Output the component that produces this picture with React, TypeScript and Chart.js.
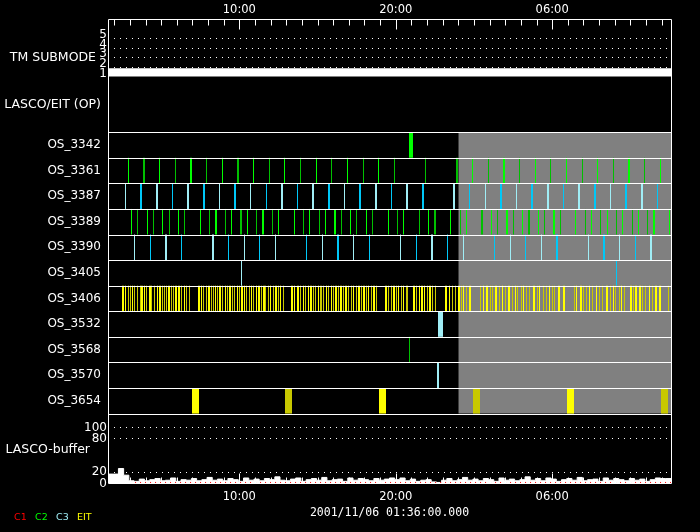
import React, { useEffect, useRef } from "react";
import { Chart, registerables } from "chart.js";

Chart.register(...registerables);

// ---------------- time axis (hours since 2001/11/06 00:00) ----------------
const START_HOUR = 1.6; // 01:36
const END_HOUR = 37.6;
const NO_DATA_FROM = 24.0; // grey area: no data after 2001/11/07 00:00
const MAJOR_TICK_EVERY = 10;
const DATE_LABEL = "2001/11/06 01:36:00.000";

// ---------------- panels ----------------
const TM_LABEL = "TM SUBMODE";
const OP_LABEL = "LASCO/EIT (OP)";
const BUFFER_LABEL = "LASCO-buffer";
const TM_TICKS = [5, 4, 3, 2, 1];
const TM_GRID = [5, 4, 3, 2];
const TM_SUBMODE_T = [1.6, 37.6];
const TM_SUBMODE_V = [1, 1];
const BUFFER_TICKS = [100, 80, 20, 0];
const BUFFER_GRID = [100, 80, 20];
const LEGEND_NAMES = ["C1", "C2", "C3", "EIT"];

// LASCO buffer fill level, one value every 20 minutes from 01:36
const BUFFER_STEP_H = 1 / 3;
const BUFFER_V = [
  16, 16, 16, 26, 14, 4,
  3, 7, 4, 6, 8, 4, 5, 9, 3, 6, 5, 8,
  4, 6, 10, 5, 7, 4, 8, 6, 3, 9, 5, 7,
  4, 8, 6, 11, 5, 4, 7, 9, 3, 6, 8, 5,
  10, 4, 6, 7, 3, 9, 5, 8, 6, 4, 8, 5,
  7, 9, 6, 9, 4, 7, 3, 5, 6, 2, 1, 5,
  8, 4, 6, 10, 5, 7, 4, 8, 6, 3, 9, 5,
  7, 4, 6, 11, 5, 8, 4, 9, 7, 3, 6, 8,
  5, 10, 4, 6, 7, 3, 9, 5, 8, 6, 4, 8,
  5, 7, 3, 6, 9, 8, 8,
];
const BUFFER_C1_T = [3.33, 37.6];
const BUFFER_C1_V = [1, 1];

// ---------------- OS rows: event times (h) and kinds ----------------
// kind: 0 bright thin, 1 dark thin, 2 bright thick, 3 dark thick, 4 bright wide, 5 dark wide
const ROW_NAMES = [
  "OS_3342", "OS_3361", "OS_3387", "OS_3389", "OS_3390", "OS_3405",
  "OS_3406", "OS_3532", "OS_3568", "OS_3570", "OS_3654",
];

const OS_3342_T = [20.97];
const OS_3342_K = [4];

const OS_3361_T = [
  2.9, 3.88, 4.88, 5.9, 6.91, 7.89, 8.91, 9.89, 10.89, 11.91,
  12.87, 13.9, 14.92, 15.88, 16.9, 17.92, 18.88, 19.91, 21.91, 23.9,
  24.89, 25.92, 26.9, 27.9, 28.92, 29.88, 30.9, 31.93, 32.89, 33.91,
  34.89, 35.89, 36.92,
];
const OS_3361_K = [
  0, 3, 0, 1, 2, 1, 0, 3, 0, 1,
  0, 1, 0, 1, 0, 1, 0, 1, 1, 3,
  0, 1, 2, 1, 0, 1, 0, 1, 0, 1,
  2, 1, 0,
];

const OS_3387_T = [
  2.71, 3.69, 4.71, 5.71, 6.72, 7.74, 8.72, 9.72, 10.7, 11.72,
  12.73, 13.7, 14.71, 15.73, 16.71, 17.71, 18.72, 19.72, 20.72, 21.74,
  23.72, 24.7, 25.73, 26.73, 27.71, 28.71, 29.74, 30.71, 31.72, 32.72,
  33.72, 34.72, 35.75, 36.72,
];
const OS_3387_K = [
  0, 3, 2, 1, 2, 3, 0, 3, 0, 1,
  2, 1, 2, 3, 0, 3, 2, 1, 2, 3,
  2, 1, 0, 3, 0, 3, 2, 1, 2, 3,
  0, 3, 2, 1,
];

const OS_3389_T = [
  3.09, 3.47, 4.14, 4.5, 5.07, 5.52, 6.1, 6.48, 7.5, 8.08,
  8.51, 9.1, 9.51, 10.1, 10.51, 11.08, 11.51, 12.11, 12.52, 13.51,
  14.09, 14.47, 15.14, 15.52, 16.13, 16.52, 17.09, 17.48, 18.12, 18.5,
  19.52, 20.1, 20.48, 21.51, 22.08, 22.51, 23.49, 24.13, 24.51, 25.51,
  26.11, 26.49, 27.09, 27.52, 28.09, 28.52, 29.11, 29.5, 30.1, 30.52,
  31.51, 32.12, 32.5, 33.08, 33.51, 34.1, 34.49, 35.11, 35.51, 36.08,
  36.51, 37.49,
];
const OS_3389_K = [
  0, 1, 0, 1, 0, 1, 0, 1, 0, 1,
  2, 1, 0, 3, 0, 1, 2, 1, 0, 0,
  1, 0, 1, 0, 2, 1, 0, 1, 0, 1,
  0, 1, 0, 1, 0, 3, 0, 1, 0, 3,
  0, 1, 2, 1, 0, 3, 0, 1, 2, 1,
  0, 1, 0, 1, 0, 1, 0, 1, 0, 1,
  2, 0,
];

const OS_3390_T = [
  3.28, 4.3, 5.29, 6.29, 8.31, 9.29, 10.32, 11.27, 12.3, 14.28,
  15.3, 16.31, 17.29, 18.31, 20.29, 21.31, 22.3, 23.3, 24.32, 26.3,
  27.32, 28.28, 29.31, 30.31, 32.31, 33.32, 34.29, 35.32, 36.32,
];
const OS_3390_K = [
  0, 1, 2, 1, 2, 1, 0, 1, 0, 1,
  0, 3, 0, 1, 0, 1, 2, 1, 0, 1,
  0, 1, 0, 3, 0, 3, 0, 1, 2,
];

const OS_3405_T = [10.12, 34.1];
const OS_3405_K = [0, 1];

const OS_3406_T = [
  2.56, 2.73, 2.88, 3.01, 3.15, 3.31, 3.47, 3.65, 3.79, 3.95,
  4.07, 4.27, 4.41, 4.56, 4.78, 4.93, 5.07, 5.23, 5.37, 5.5,
  5.65, 5.8, 5.97, 6.12, 6.29, 6.46, 6.63, 6.78,
  7.4, 7.57, 7.72, 7.89, 8.04, 8.19, 8.33, 8.46, 8.63, 8.78,
  8.95, 9.1, 9.23, 9.4, 9.55, 9.7, 9.87, 10.02, 10.17, 10.32,
  10.47, 10.62, 10.76, 10.92, 11.08, 11.24, 11.4, 11.56, 11.7, 11.85,
  12.02, 12.17, 12.32, 12.49, 12.64, 12.81,
  13.38, 13.54, 13.73, 13.94, 14.09, 14.26, 14.43, 14.58, 14.75, 14.9,
  15.07, 15.22, 15.39, 15.54, 15.71, 15.86, 16.03, 16.18, 16.35, 16.5,
  16.67, 16.82, 16.99, 17.14, 17.29, 17.46, 17.63, 17.78, 17.95, 18.1,
  18.27, 18.42, 18.59, 18.74,
  19.38, 19.55, 19.7, 19.87, 20.02, 20.19, 20.35, 20.48, 20.66, 20.78,
  21.19, 21.34, 21.51, 21.66, 21.83, 22.02, 22.19, 22.36, 22.57, 23.19,
  23.42, 23.6, 23.79, 24.03, 24.22, 24.32, 24.54, 24.75,
  25.39, 25.6, 25.82, 26.03, 26.2, 26.4, 26.62, 26.81, 26.99, 27.25,
  27.48, 27.63, 27.8, 28.01, 28.2, 28.37, 28.58, 28.85, 29.08, 29.22,
  29.44, 29.61, 29.8, 30.01, 30.18, 30.45, 30.79,
  31.4, 31.57, 31.83, 31.99, 32.17, 32.36, 32.59, 32.85, 33.02, 33.21,
  33.48, 33.74, 33.91, 34.08, 34.28, 34.45, 34.61, 35.03, 35.19, 35.39,
  35.59, 35.79, 36.0, 36.21, 36.43, 36.67, 36.87, 37.43,
];
const OS_3406_K = [
  2, 0, 1, 1, 0, 1, 1, 1, 2, 0,
  1, 2, 1, 1, 0, 2, 1, 1, 1, 2,
  1, 1, 2, 2, 1, 0, 1, 1,
  2, 0, 1, 1, 2, 1, 1, 0, 1, 2,
  1, 0, 1, 2, 1, 1, 0, 1, 2, 0,
  1, 1, 0, 1, 0, 2, 1, 2, 1, 1,
  0, 1, 2, 1, 0, 1,
  2, 0, 2, 1, 0, 1, 0, 2, 1, 1,
  0, 3, 1, 0, 1, 0, 1, 2, 1, 2,
  1, 2, 1, 1, 0, 1, 2, 1, 2, 1,
  0, 1, 2, 1,
  2, 1, 1, 2, 1, 0, 1, 0, 1, 1,
  2, 1, 0, 2, 0, 1, 2, 1, 1, 2,
  0, 1, 1, 2, 1, 0, 1, 2,
  1, 0, 2, 1, 1, 2, 1, 0, 1, 2,
  1, 0, 1, 1, 0, 1, 1, 2, 1, 0,
  1, 1, 0, 1, 1, 2, 2,
  1, 0, 2, 1, 1, 0, 1, 0, 1, 1,
  2, 1, 0, 1, 1, 0, 1, 2, 1, 2,
  2, 1, 1, 0, 1, 2, 2, 1,
];

const OS_3532_T = [22.86];
const OS_3532_K = [4];
const OS_3568_T = [20.87];
const OS_3568_K = [1];
const OS_3570_T = [22.68];
const OS_3570_K = [2];
const OS_3654_T = [7.19, 13.17, 19.18, 25.19, 31.17, 37.18];
const OS_3654_K = [4, 5, 4, 5, 4, 5];

const ROW_TIMES = [
  OS_3342_T, OS_3361_T, OS_3387_T, OS_3389_T, OS_3390_T, OS_3405_T,
  OS_3406_T, OS_3532_T, OS_3568_T, OS_3570_T, OS_3654_T,
];
const ROW_KINDS = [
  OS_3342_K, OS_3361_K, OS_3387_K, OS_3389_K, OS_3390_K, OS_3405_K,
  OS_3406_K, OS_3532_K, OS_3568_K, OS_3570_K, OS_3654_K,
];

// ---------------- styles ----------------
const PALETTES: Record<string, [string, string]> = {
  green: ["#00ff00", "#00c000"],
  blue: ["#a0eef6", "#00c8f8"],
  yellow: ["#ffff00", "#c8c800"],
};
const ROW_FAMILY = [
  "green", "green", "blue", "green", "blue", "blue",
  "yellow", "blue", "green", "blue", "yellow",
];
const ROW_WIDE = [4, 2, 2, 2, 2, 2, 2, 5, 2, 2, 7];
const LEGEND_COLORS = ["#ff0000", "#00ff00", "#a0eef6", "#ffff00"];
const GREY = "#808080";
const FONT = '"DejaVu Sans", "Liberation Sans", sans-serif';
const MONO = '"DejaVu Sans Mono", "Liberation Mono", monospace';

// ---------------- layout (y unit = 1 px above the plot bottom) ----------------
const PLOT_H = 464;
const ROWS_TOP = 350.8;
const ROW_H = 25.58;
const TM_BASE = 406.5;
const TM_STEP = 9.6;
const TM_BAR = 0.85;
const BUF_UNIT = 0.557;

const rowEdge = (i: number) => ROWS_TOP - i * ROW_H;
const rowCenter = (i: number) => ROWS_TOP - (i + 0.5) * ROW_H;
const tmY = (v: number) => TM_BASE + (v - 1) * TM_STEP;
const bufY = (v: number) => v * BUF_UNIT;

const kindColor = (row: number, k: number) => PALETTES[ROW_FAMILY[row]][k % 2];
const kindWidth = (row: number, k: number) => (k < 2 ? 1 : k < 4 ? 2 : ROW_WIDE[row]);

function buildDatasets(): any[] {
  const ds: any[] = [];
  // grey no-data region behind OS rows
  ds.push({
    type: "line",
    data: [
      { x: NO_DATA_FROM, y: rowEdge(0) },
      { x: END_HOUR, y: rowEdge(0) },
    ],
    fill: { value: rowEdge(ROW_NAMES.length) },
    backgroundColor: GREY,
    borderWidth: 0,
    pointRadius: 0,
    order: 50,
  });
  // TM submode bar
  ds.push({
    type: "line",
    data: TM_SUBMODE_T.map((t, i) => ({ x: t, y: tmY(TM_SUBMODE_V[i]) })),
    fill: { value: tmY(TM_SUBMODE_V[0] + TM_BAR) },
    backgroundColor: "#ffffff",
    borderWidth: 0,
    pointRadius: 0,
    order: 40,
  });
  // LASCO buffer histogram
  ds.push({
    type: "line",
    data: BUFFER_V.map((v, i) => ({ x: START_HOUR + i * BUFFER_STEP_H, y: bufY(v) })),
    stepped: "after",
    fill: "origin",
    backgroundColor: "#ffffff",
    borderColor: "#ffffff",
    borderWidth: 1,
    pointRadius: 0,
    order: 40,
  });
  ds.push({
    type: "line",
    data: BUFFER_C1_T.map((t, i) => ({ x: t, y: bufY(BUFFER_C1_V[i]) })),
    borderColor: LEGEND_COLORS[0],
    borderWidth: 1,
    borderDash: [1, 4],
    pointRadius: 0,
    fill: false,
    order: 5,
  });
  // OS rows
  ROW_NAMES.forEach((name, r) => {
    const times = ROW_TIMES[r];
    const kinds = ROW_KINDS[r];
    ds.push({
      type: "scatter",
      label: name,
      data: times.map((t) => ({ x: t, y: rowCenter(r) })),
      showLine: false,
      pointStyle: "line",
      pointRotation: 90,
      pointRadius: (ctx: any) => {
        const y = ctx.chart.scales.y;
        return Math.abs(y.getPixelForValue(0) - y.getPixelForValue(ROW_H)) / 2;
      },
      pointBorderColor: kinds.map((k) => kindColor(r, k)),
      pointBackgroundColor: kinds.map((k) => kindColor(r, k)),
      pointBorderWidth: kinds.map((k) => kindWidth(r, k)),
      order: 10,
    });
  });
  return ds;
}

const hourLabel = (h: number) => `${String(h % 24).padStart(2, "0")}:00`;

// snaps event marks onto the pixel grid so thin lines stay crisp
const snapPlugin = {
  id: "snap",
  beforeDatasetsDraw(chart: any) {
    chart.data.datasets.forEach((d: any, i: number) => {
      if (d.type !== "scatter") return;
      const meta = chart.getDatasetMeta(i);
      meta.data.forEach((el: any, j: number) => {
        const w = Array.isArray(d.pointBorderWidth) ? d.pointBorderWidth[j] : 1;
        const iw = Math.round(w);
        el.x = iw % 2 === 1 ? Math.floor(el.x) + 0.5 : Math.round(el.x);
      });
    });
  },
};

const decorPlugin = {
  id: "decor",
  beforeDraw(chart: any) {
    const { ctx, width, height } = chart;
    ctx.save();
    ctx.fillStyle = "#000";
    ctx.fillRect(0, 0, width, height);
    ctx.restore();
  },
  afterDatasetsDraw(chart: any) {
    const { ctx, chartArea: a, scales } = chart;
    const xs = scales.x;
    const ys = scales.y;
    const py = (v: number) => Math.round(ys.getPixelForValue(v)) + 0.5;
    const hline = (yy: number) => {
      ctx.beginPath();
      ctx.moveTo(a.left, yy);
      ctx.lineTo(a.right + 1, yy);
      ctx.stroke();
    };
    ctx.save();
    ctx.strokeStyle = "#ffffff";
    ctx.lineWidth = 1;

    // dotted grid lines
    ctx.setLineDash([1, 5]);
    TM_GRID.forEach((v) => hline(py(tmY(v))));
    BUFFER_GRID.forEach((v) => hline(py(bufY(v))));
    ctx.setLineDash([]);

    // row separators
    for (let i = 0; i <= ROW_NAMES.length; i++) hline(py(rowEdge(i)));

    // frame
    const L = Math.round(a.left) + 0.5;
    const R = Math.round(a.right) + 0.5;
    const T = Math.round(a.top) + 0.5;
    const B = Math.round(a.bottom) + 0.5;
    ctx.beginPath();
    ctx.moveTo(L, B);
    ctx.lineTo(L, T);
    ctx.lineTo(R, T);
    ctx.lineTo(R, B);
    ctx.lineTo(L, B);
    ctx.stroke();

    // hour ticks, top and bottom, pointing inward
    for (let h = Math.ceil(START_HOUR); h <= END_HOUR; h++) {
      const xx = Math.round(xs.getPixelForValue(h)) + 0.5;
      const len = h % MAJOR_TICK_EVERY === 0 ? 10 : 6;
      ctx.beginPath();
      ctx.moveTo(xx, T);
      ctx.lineTo(xx, T + len);
      ctx.moveTo(xx, B);
      ctx.lineTo(xx, B - len);
      ctx.stroke();
    }

    // texts
    ctx.fillStyle = "#ffffff";
    ctx.font = `11.5px ${FONT}`;
    ctx.textAlign = "center";
    ctx.textBaseline = "middle";
    for (let h = Math.ceil(START_HOUR); h <= END_HOUR; h++) {
      if (h % MAJOR_TICK_EVERY !== 0) continue;
      const xx = xs.getPixelForValue(h);
      ctx.fillText(hourLabel(h), xx, a.top - 9);
      ctx.fillText(hourLabel(h), xx, a.bottom + 14.5);
    }
    ctx.font = `11.5px ${MONO}`;
    ctx.fillText(DATE_LABEL, (a.left + a.right) / 2, a.bottom + 30.5);

    // panel labels
    ctx.textAlign = "right";
    ctx.font = `12.5px ${FONT}`;
    ctx.fillText(TM_LABEL, a.left - 12, ys.getPixelForValue(tmY(3)));
    ctx.fillText(OP_LABEL, a.left - 7, ys.getPixelForValue((rowEdge(0) + TM_BASE) / 2));
    ctx.fillText(BUFFER_LABEL, a.left - 18, ys.getPixelForValue(rowEdge(ROW_NAMES.length) / 2) + 1.5);

    ctx.font = `12px ${FONT}`;
    ROW_NAMES.forEach((name, r) => {
      ctx.fillText(name, a.left - 7, ys.getPixelForValue(rowCenter(r)));
    });

    // axis tick labels
    ctx.font = `12px ${FONT}`;
    BUFFER_TICKS.forEach((v) => ctx.fillText(String(v), a.left - 1, ys.getPixelForValue(bufY(v)) + 0.5));
    ctx.textBaseline = "alphabetic";
    TM_TICKS.forEach((v) => ctx.fillText(String(v), a.left - 1, ys.getPixelForValue(tmY(v))));

    // legend
    ctx.textAlign = "left";
    ctx.textBaseline = "middle";
    ctx.font = `9.5px ${FONT}`;
    LEGEND_NAMES.forEach((n, i) => {
      ctx.fillStyle = LEGEND_COLORS[i];
      ctx.fillText(n, 14 + i * 21, a.bottom + 34.5);
    });
    ctx.restore();
  },
};

export default function App() {
  const ref = useRef<HTMLCanvasElement>(null);
  useEffect(() => {
    document.body.style.margin = "0";
    document.body.style.background = "#000";
    const canvas = ref.current;
    if (!canvas) return;
    const chart = new Chart(canvas, {
      type: "scatter",
      data: { datasets: buildDatasets() },
      options: {
        animation: false,
        responsive: false,
        maintainAspectRatio: false,
        devicePixelRatio: 1,
        events: [],
        layout: { padding: { left: 108, right: 29, top: 19, bottom: 49 } },
        scales: {
          x: { type: "linear", min: START_HOUR, max: END_HOUR, display: false },
          y: { type: "linear", min: 0, max: PLOT_H, display: false },
        },
        plugins: {
          legend: { display: false },
          tooltip: { enabled: false },
        },
      } as any,
      plugins: [snapPlugin, decorPlugin],
    });
    return () => chart.destroy();
  }, []);
  return (
    <canvas
      ref={ref}
      width={700}
      height={532}
      style={{ display: "block", width: 700, height: 532, background: "#000" }}
    />
  );
}
